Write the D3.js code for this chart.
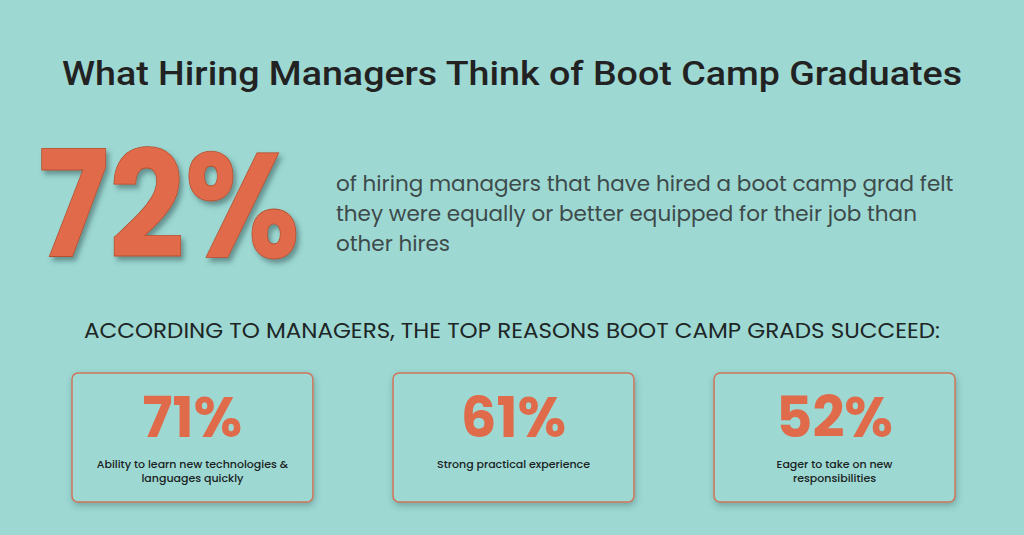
<!DOCTYPE html>
<html><head><meta charset="utf-8">
<script src="https://cdn.jsdelivr.net/npm/d3@7"></script>
<style>body{margin:0;background:#9dd8d3}</style>
</head><body>
<script>
const title = 'What Hiring Managers Think of Boot Camp Graduates';
const headline = '72%';
const headlineLines = ['of hiring managers that have hired a boot camp grad felt', 'they were equally or better equipped for their job than', 'other hires'];
const subhead = 'ACCORDING TO MANAGERS, THE TOP REASONS BOOT CAMP GRADS SUCCEED:';
const reasons = ['71%', '61%', '52%'];
const reasonLabels = [['Ability to learn new technologies &', 'languages quickly'], ['Strong practical experience'], ['Eager to take on new', 'responsibilities']];

const W = 1024, H = 535, orange = '#e06b4a';
const svg = d3.select('body').append('svg').attr('width', W).attr('height', H);
svg.append('rect').attr('width', W).attr('height', H).attr('fill', '#9dd8d3');

const defs = svg.append('defs');
const sh = defs.append('filter').attr('id', 'sh').attr('x', '-10%').attr('y', '-10%').attr('width', '130%').attr('height', '130%');
sh.append('feDropShadow').attr('dx', 3).attr('dy', 4).attr('stdDeviation', 2.5).attr('flood-color', '#2a4a48').attr('flood-opacity', 0.5);
const bs = defs.append('filter').attr('id', 'bs').attr('x', '-10%').attr('y', '-10%').attr('width', '120%').attr('height', '130%');
bs.append('feDropShadow').attr('dx', 1).attr('dy', 3).attr('stdDeviation', 3).attr('flood-color', '#2a4a48').attr('flood-opacity', 0.35);

svg.append('text').attr('x', W / 2).attr('y', 85).attr('text-anchor', 'middle')
  .attr('font-family', 'Roboto').attr('font-weight', 500).attr('font-size', 34)
  .attr('textLength', 900).attr('lengthAdjust', 'spacingAndGlyphs')
  .attr('fill', '#222').text(title);

svg.append('text').attr('x', 38).attr('y', 257)
  .attr('font-family', 'Poppins, Montserrat, Inter').attr('font-weight', 700).attr('font-size', 148)
  .attr('textLength', 262).attr('lengthAdjust', 'spacingAndGlyphs')
  .attr('fill', orange).attr('stroke', '#b5502f').attr('stroke-width', 0.8)
  .attr('filter', 'url(#sh)').text(headline);

svg.append('g').selectAll('text').data(headlineLines).join('text')
  .attr('x', 336).attr('y', (d, i) => 191 + i * 30)
  .attr('font-family', 'Poppins, Inter').attr('font-size', 21.5).attr('fill', '#3d4a4a')
  .text(d => d);

svg.append('text').attr('x', W / 2).attr('y', 338).attr('text-anchor', 'middle')
  .attr('font-family', 'Poppins, Inter').attr('font-size', 21)
  .attr('textLength', 856).attr('lengthAdjust', 'spacingAndGlyphs')
  .attr('fill', '#1e2626').text(subhead);

const x = d3.scaleBand().domain(d3.range(reasons.length)).range([72, 955]).paddingInner(80 / 241 / 1.33);
const boxes = svg.selectAll('g.box').data(reasons).join('g').attr('class', 'box')
  .attr('transform', (d, i) => `translate(${x(i)},373)`);
boxes.append('rect').attr('width', x.bandwidth()).attr('height', 129).attr('rx', 6)
  .attr('fill', '#9dd8d3').attr('stroke', '#d0755a').attr('stroke-width', 1.5).attr('filter', 'url(#bs)');
boxes.append('text').attr('x', x.bandwidth() / 2).attr('y', 64).attr('text-anchor', 'middle')
  .attr('font-family', 'Poppins, Montserrat, Inter').attr('font-weight', 700).attr('font-size', 56)
  .attr('fill', orange).text(d => d);
boxes.each(function (d, i) {
  d3.select(this).selectAll('text.l').data(reasonLabels[i]).join('text').attr('class', 'l')
    .attr('x', x.bandwidth() / 2).attr('y', (t, j) => 95 + j * 14).attr('text-anchor', 'middle')
    .attr('font-family', 'Poppins, Inter').attr('font-weight', 500).attr('font-size', 11)
    .attr('fill', '#1a2222').text(t => t);
});
</script>
</body></html>
